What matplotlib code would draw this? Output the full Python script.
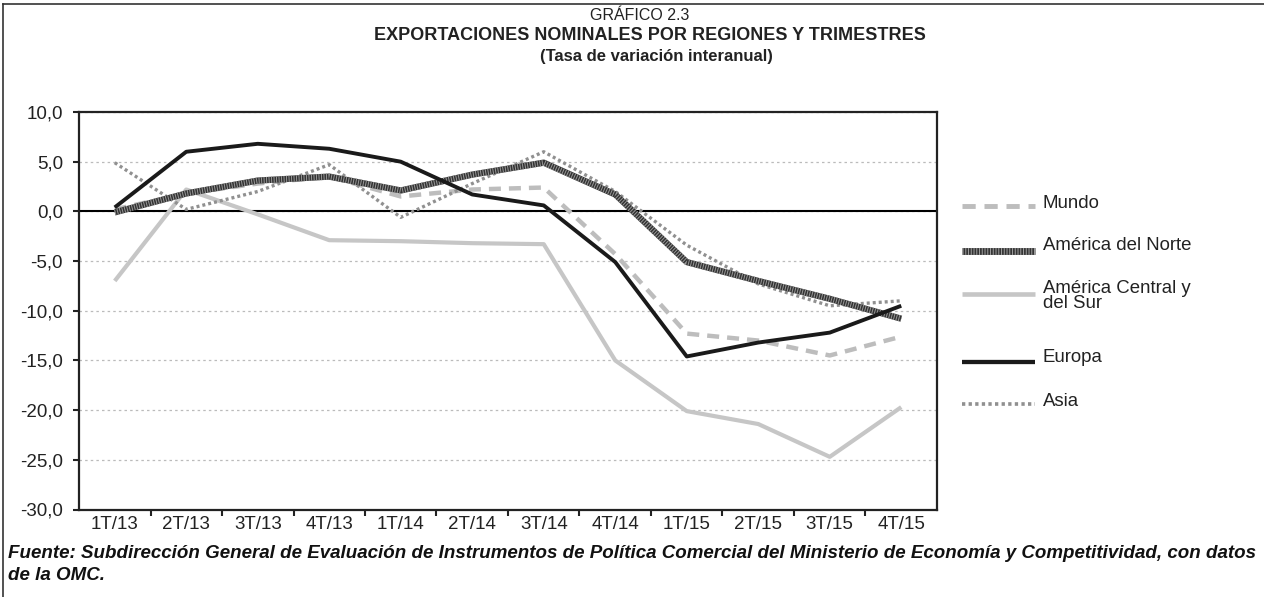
import numpy as np
import matplotlib
matplotlib.use("Agg")
import matplotlib.pyplot as plt
from matplotlib.lines import Line2D

plt.rcParams['font.family'] = ['Liberation Sans', 'DejaVu Sans']

trimestres = ['1T/13', '2T/13', '3T/13', '4T/13', '1T/14', '2T/14',
              '3T/14', '4T/14', '1T/15', '2T/15', '3T/15', '4T/15']

mundo = [0.2, 1.8, 2.8, 3.5, 1.5, 2.2, 2.4, -4.3, -12.3, -13.0, -14.5, -12.6]
america_norte = [-0.1, 1.8, 3.1, 3.5, 2.1, 3.7, 4.9, 1.7, -5.1, -7.0, -8.8, -10.8]
america_central_sur = [-7.0, 2.2, -0.3, -2.9, -3.0, -3.2, -3.3, -15.0, -20.1, -21.4, -24.7, -19.7]
europa = [0.4, 6.0, 6.8, 6.3, 5.0, 1.7, 0.6, -5.1, -14.6, -13.2, -12.2, -9.5]
asia = [4.9, 0.2, 2.0, 4.7, -0.6, 2.8, 6.0, 2.0, -3.4, -7.3, -9.5, -9.0]

W, H = 1264, 597
fig = plt.figure(figsize=(W / 100, H / 100), dpi=100)
ax = fig.add_axes([79 / W, 1 - 509.5 / H, (937 - 79) / W, (509.5 - 112) / H])

x = np.arange(len(trimestres))

# estilos de cada serie
estilos = {
    'Mundo': dict(color='#bdbdbd', lw=3.2, dashes=(2.7, 1.8), zorder=3),
    'América del Norte': dict(color='#333333', lw=4.5, zorder=5),
    'América Central y\ndel Sur': dict(color='#c6c6c6', lw=3.0, zorder=2),
    'Europa': dict(color='#1a1a1a', lw=2.8, zorder=6),
    'Asia': dict(color='#909090', lw=2.4, dashes=(0.9, 0.9), zorder=4),
}
series = {
    'Mundo': mundo,
    'América del Norte': america_norte,
    'América Central y\ndel Sur': america_central_sur,
    'Europa': europa,
    'Asia': asia,
}

ax.axhline(0, color='black', lw=1.5, zorder=1)
for nombre, vals in series.items():
    ax.plot(x, vals, solid_capstyle='butt', dash_capstyle='butt', **estilos[nombre])
# textura de América del Norte
ax.plot(x, america_norte, color='#9a9a9a', lw=4.5, dashes=(0.15, 0.25),
        dash_capstyle='butt', zorder=5.1)

ax.set_xlim(-0.5, len(trimestres) - 0.5)
ax.set_ylim(-30, 10)
ax.set_yticks(np.arange(-30, 11, 5))
ax.set_yticklabels([f'{v:.1f}'.replace('.', ',') for v in np.arange(-30, 11, 5)])
ax.set_xticks(x)
ax.set_xticklabels(trimestres)
ax.set_xticks(np.arange(0.5, len(trimestres) - 1, 1), minor=True)
ax.tick_params(axis='x', which='major', length=0, pad=5, labelsize=13.5, colors='#222')
ax.tick_params(axis='x', which='minor', length=4, width=1.5, color='#222', direction='out')
ax.tick_params(axis='y', length=4.5, width=1.5, color='#222', pad=7, labelsize=13.5,
               labelcolor='#222')

ax.yaxis.grid(True, ls=(0, (2, 2.5)), color='#bbbbbb', lw=0.9)
ax.set_axisbelow(True)
for s in ax.spines.values():
    s.set_linewidth(1.6)
    s.set_color('#222')

# leyenda manual
leg_y = {'Mundo': (206.5, 204), 'América del Norte': (250.5, 245.5),
         'América Central y\ndel Sur': (293.5, 296), 'Europa': (361.5, 358),
         'Asia': (404, 401)}
for nombre, (ky, ty) in leg_y.items():
    est = dict(estilos[nombre])
    est.pop('zorder')
    est['lw'] = est['lw'] * 1.1
    fig.add_artist(Line2D([962 / W, 1035 / W], [1 - ky / H, 1 - ky / H],
                          solid_capstyle='butt', dash_capstyle='butt', **est))
    if nombre == 'América del Norte':
        fig.add_artist(Line2D([962 / W, 1035 / W], [1 - ky / H, 1 - ky / H],
                              color='#9a9a9a', lw=est['lw'], dashes=(0.15, 0.25),
                              dash_capstyle='butt'))
    fig.text(1043 / W, 1 - ty / H, nombre, fontsize=13.4, va='center', ha='left',
             color='#222', linespacing=0.9)

# títulos
fig.text(640 / W, 1 - 15 / H, 'GRÁFICO 2.3', ha='center', va='center', fontsize=11.5,
         color='#222')
fig.text(650 / W, 1 - 35 / H, 'EXPORTACIONES NOMINALES POR REGIONES Y TRIMESTRES',
         ha='center', va='center', fontsize=13, fontweight='bold', color='#222')
fig.text(656 / W, 1 - 57 / H, '(Tasa de variación interanual)', ha='center',
         va='center', fontsize=12, fontweight='bold', color='#222')

fig.text(8 / W, 1 - 554 / H,
         'Fuente: Subdirección General de Evaluación de Instrumentos de Política '
         'Comercial del Ministerio de Economía y Competitividad, con datos',
         ha='left', va='center', fontsize=13.5, fontweight='bold', style='italic',
         color='#111')
fig.text(8 / W, 1 - 575 / H, 'de la OMC.', ha='left', va='center', fontsize=13.5,
         fontweight='bold', style='italic', color='#111')

# marco exterior
fig.add_artist(Line2D([3 / W, 1], [1 - 4 / H, 1 - 4 / H], color='#333', lw=1.2))
fig.add_artist(Line2D([3 / W, 3 / W], [0, 1 - 4 / H], color='#333', lw=1.2))

fig.savefig('out.png', dpi=100)
